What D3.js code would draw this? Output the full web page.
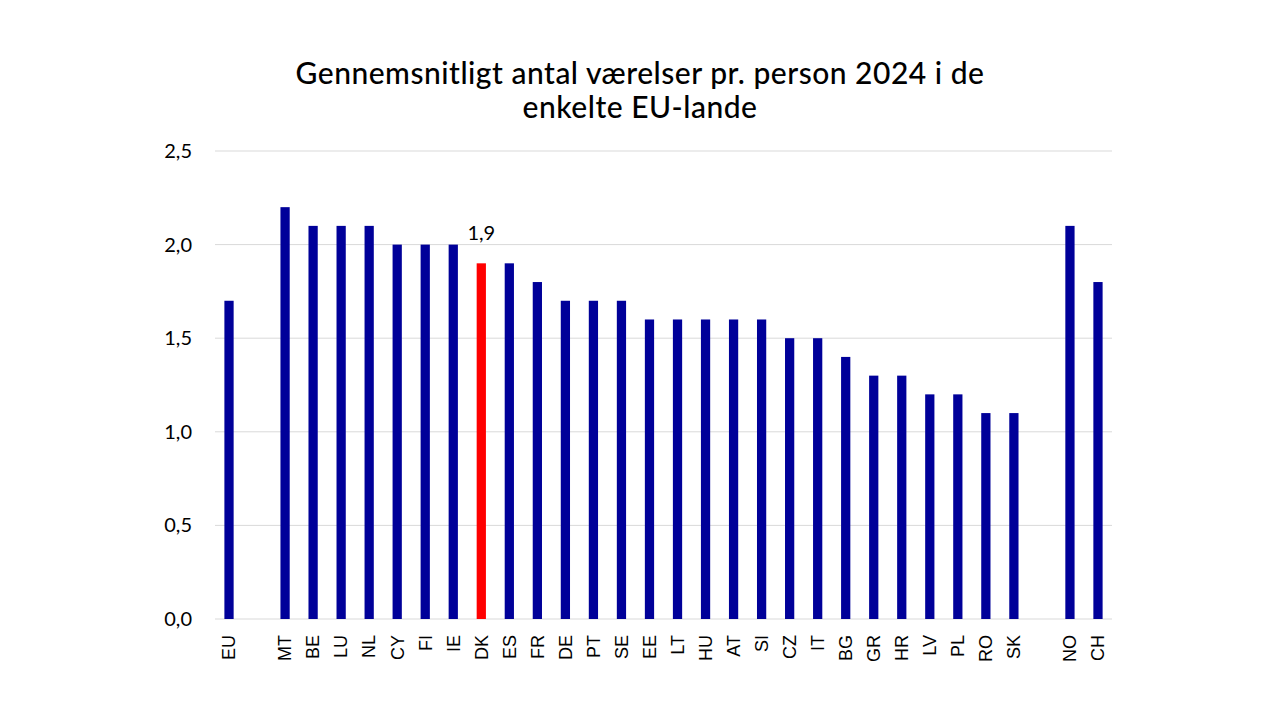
<!DOCTYPE html>
<html>
<head>
<meta charset="utf-8">
<script src="https://cdn.jsdelivr.net/npm/d3@7"></script>
<style>
  body { margin: 0; background: #fff; }
</style>
</head>
<body>
<div id="chart"></div>
<script>
// Data
const countries = ["EU", "MT", "BE", "LU", "NL", "CY", "FI", "IE", "DK", "ES", "FR", "DE", "PT", "SE",
    "EE", "LT", "HU", "AT", "SI", "CZ", "IT", "BG", "GR", "HR", "LV", "PL", "RO", "SK", "NO", "CH"]
const rooms = [1.7, 2.2, 2.1, 2.1, 2.1, 2.0, 2.0, 2.0, 1.9, 1.9, 1.8, 1.7, 1.7, 1.7,
    1.6, 1.6, 1.6, 1.6, 1.6, 1.5, 1.5, 1.4, 1.3, 1.3, 1.2, 1.2, 1.1, 1.1, 2.1, 1.8]
// axis slots, including the two empty ones (after EU and before NO)
const slots = ["EU", "gap1", "MT", "BE", "LU", "NL", "CY", "FI", "IE", "DK", "ES", "FR", "DE", "PT", "SE",
    "EE", "LT", "HU", "AT", "SI", "CZ", "IT", "BG", "GR", "HR", "LV", "PL", "RO", "SK", "gap2", "NO", "CH"]
const yTicks = [0, 0.5, 1.0, 1.5, 2.0, 2.5]
const highlight = "DK"

const data = countries.map((c, i) => ({country: c, value: rooms[i]}))

const W = 1280, H = 720
const margin = {top: 151, right: 168, bottom: 101, left: 215}
const width = W - margin.left - margin.right
const height = H - margin.top - margin.bottom

const svg = d3.select("#chart").append("svg")
    .attr("width", W)
    .attr("height", H)

// Title
const title = svg.append("text")
    .attr("text-anchor", "middle")
    .style("font-family", "Lato, 'Noto Sans', sans-serif")
    .style("font-size", "30px")
    .style("font-weight", "500")
    .style("letter-spacing", "0.5px")
    .style("fill", "#000")
title.append("tspan").attr("x", 640).attr("y", 84).text("Gennemsnitligt antal værelser pr. person 2024 i de")
title.append("tspan").attr("x", 640).attr("y", 118).text("enkelte EU-lande")

const g = svg.append("g").attr("transform", `translate(${margin.left},${margin.top})`)

const x = d3.scaleBand().domain(slots).range([0, width]).paddingInner(0.67).paddingOuter(0.335)
const y = d3.scaleLinear().domain([0, 2.5]).range([height, 0])
const fmt = v => d3.format(".1f")(v).replace(".", ",")

// Gridlines
g.selectAll(".grid")
    .data(yTicks)
    .enter().append("line")
    .attr("class", "grid")
    .attr("x1", 0)
    .attr("x2", width)
    .attr("y1", d => y(d))
    .attr("y2", d => y(d))
    .style("stroke", "#d9d9d9")
    .style("stroke-width", 1)

// Y axis labels
g.selectAll(".ylabels")
    .data(yTicks)
    .enter().append("text")
    .attr("class", "ylabels")
    .attr("x", -23)
    .attr("y", d => y(d))
    .attr("dy", "0.35em")
    .attr("text-anchor", "end")
    .style("font-family", "Lato, 'Noto Sans', sans-serif")
    .style("font-size", "20px")
    .style("fill", "#000")
    .text(d => fmt(d))

// Bars
g.selectAll(".bar")
    .data(data)
    .enter().append("rect")
    .attr("class", "bar")
    .attr("x", d => x(d.country))
    .attr("width", x.bandwidth())
    .attr("y", d => y(d.value))
    .attr("height", d => height - y(d.value))
    .style("fill", d => d.country === highlight ? "#ff0000" : "#000099")

// Value label on highlighted bar
const dk = data.find(d => d.country === highlight)
g.append("text")
    .attr("x", x(dk.country) + x.bandwidth() / 2)
    .attr("y", y(dk.value) - 23)
    .attr("text-anchor", "middle")
    .style("font-family", "Lato, 'Noto Sans', sans-serif")
    .style("font-size", "20px")
    .style("fill", "#000")
    .text(fmt(dk.value))

// X labels (rotated)
g.selectAll(".xlabels")
    .data(countries)
    .enter().append("text")
    .attr("class", "xlabels")
    .attr("transform", d => `translate(${x(d) + x.bandwidth() / 2}, ${height + 16}) rotate(-90)`)
    .attr("dy", "0.35em")
    .attr("text-anchor", "end")
    .style("font-family", "'Liberation Sans', Arial, sans-serif")
    .style("font-size", "18px")
    .style("fill", "#000")
    .text(d => d)
</script>
</body>
</html>
